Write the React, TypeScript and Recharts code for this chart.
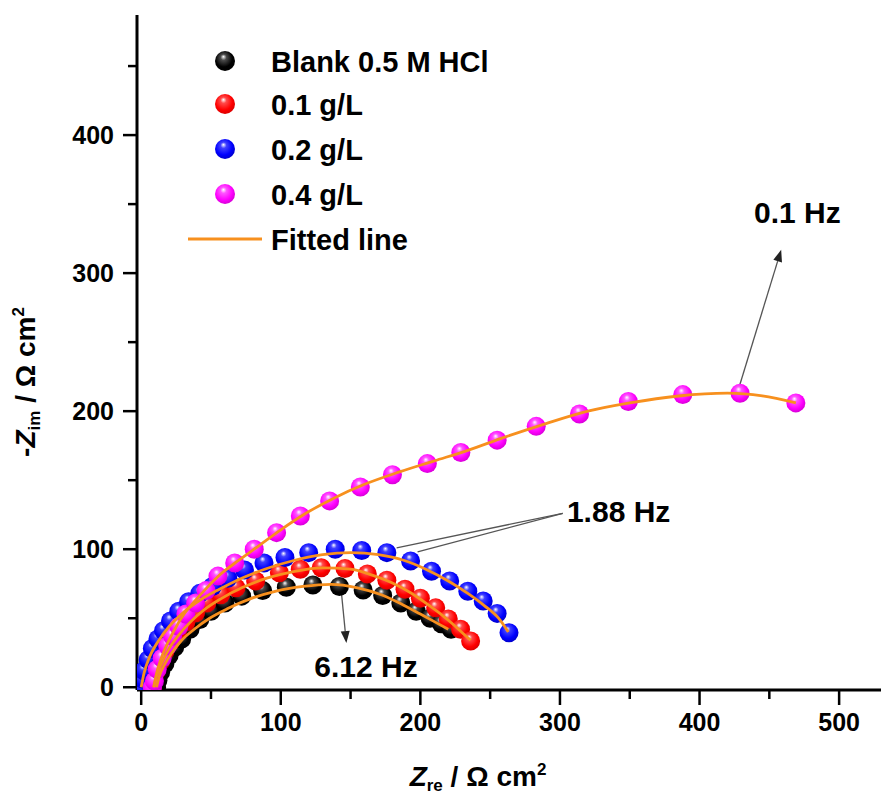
import React from 'react';
import { ScatterChart, Scatter, XAxis, YAxis, Legend, ReferenceLine, ReferenceDot } from 'recharts';

// ---- measured data (Zre, -Zim in Ω cm²) ----
const blankZre = [11, 12, 14, 17, 20, 24, 29, 35, 42, 50, 60, 72, 87, 104, 123, 142, 159, 173, 186, 197, 207, 215, 222];
const blankZim = [0, 5, 11, 17, 23, 29, 35, 42, 49, 55, 61, 66, 70, 72.5, 74, 73, 70.5, 66.5, 61, 55, 50, 46, 42];

const g01Zre = [8, 9, 11, 14, 17, 21, 26, 32, 39, 47, 57, 68, 82, 99, 114, 129, 146, 162, 176, 189, 200, 211, 220, 228.8, 236];
const g01Zim = [0, 5, 12, 19, 26, 33, 40, 47, 54, 61, 67, 72, 77, 83, 85.5, 86.5, 86, 82, 77.5, 71, 64.5, 57.5, 49.5, 42, 33.5];

const g02Zre = [0, 1, 2, 5, 8, 12, 16, 21, 27, 34, 42, 51, 62, 74, 88, 103, 120, 139, 158, 176, 193, 208, 221, 234, 245, 255, 263.5];
const g02Zim = [0, 6, 12, 20, 28, 35, 41, 48, 55, 62, 68, 73, 79, 85, 90, 94, 97.5, 100, 99, 97.5, 91.5, 84, 77, 69.5, 62.5, 53.5, 39.5];

const g04Zre = [8, 9.5, 11.5, 15, 19, 22.5, 27, 32, 39, 46.5, 55, 67, 81, 97, 114, 135, 157, 180, 205, 229, 255, 283, 314, 349, 388, 429, 469];
const g04Zim = [0, 4.5, 13, 21, 30, 37, 44, 53, 61, 70, 80.5, 90, 100, 112, 124, 135, 145, 154, 162, 170, 179, 189, 198, 207, 212, 213, 206];

// ---- fitted curves ----
const blankFitZre = [11, 13, 17, 22, 29, 38, 49, 62, 78, 96, 116, 136, 155, 172, 187, 200, 211, 220];
const blankFitZim = [0, 8, 17, 25, 34, 42, 50, 57, 64, 69.5, 73, 74.5, 72, 67, 60, 53, 47, 42];

const g01FitZre = [9, 11, 15, 20, 27, 35, 45, 57, 72, 90, 110, 130, 150, 166, 180, 193, 204, 214, 223, 230, 236];
const g01FitZim = [0, 8, 18, 28, 38, 47, 56, 64, 72, 79, 84, 86.5, 85.5, 81, 75.5, 68.5, 61, 53.5, 46, 39.5, 34];

const g02FitZre = [0, 2, 6, 12, 20, 30, 42, 56, 72, 90, 110, 130, 150, 170, 188, 205, 220, 234, 246, 256, 263];
const g02FitZim = [0, 10, 22, 33, 44, 54, 63, 71, 79, 86, 92, 96, 97.5, 96, 92, 85, 77, 68, 59, 50, 40];

const g04FitZre = [9, 11, 14, 18, 23, 30, 38, 47, 57, 70, 85, 100, 118, 138, 160, 185, 210, 235, 260, 290, 320, 350, 385, 420, 445, 469];
const g04FitZim = [0, 10, 20, 30, 40, 52, 62, 72, 82, 92, 103, 114, 126, 137, 147, 156, 164, 172, 181, 191, 200, 206, 211, 213, 211, 206];

// ---- axes ----
const xTicks = [0, 50, 100, 150, 200, 250, 300, 350, 400, 450, 500];
const yTicks = [0, 50, 100, 150, 200, 250, 300, 350, 400, 450];
const xDomain = [-3, 530];
const yDomain = [-2, 487];

const seriesNames = ['Blank 0.5 M HCl', '0.1 g/L', '0.2 g/L', '0.4 g/L'];
const fitName = 'Fitted line';

const toPts = (xs: number[], ys: number[]) => xs.map((x, i) => ({ x, y: ys[i] }));

const FONT = '"Liberation Sans", Arial, Helvetica, sans-serif';
const ORANGE = '#f7901e';

const sphereStyles = [
  { id: 'sph-k', stops: ['#ffffff', '#4a4a4a', '#000000', '#000000'] },
  { id: 'sph-r', stops: ['#ffffff', '#ff4a4a', '#ff0000', '#d80000'] },
  { id: 'sph-b', stops: ['#ffffff', '#4040ff', '#0000ff', '#0000c8'] },
  { id: 'sph-m', stops: ['#ffffff', '#ff55ff', '#ff00ff', '#d400d4'] },
];

const series = [
  { name: seriesNames[0], data: toPts(blankZre, blankZim), fit: toPts(blankFitZre, blankFitZim), grad: 'sph-k' },
  { name: seriesNames[1], data: toPts(g01Zre, g01Zim), fit: toPts(g01FitZre, g01FitZim), grad: 'sph-r' },
  { name: seriesNames[2], data: toPts(g02Zre, g02Zim), fit: toPts(g02FitZre, g02FitZim), grad: 'sph-b' },
  { name: seriesNames[3], data: toPts(g04Zre, g04Zim), fit: toPts(g04FitZre, g04FitZim), grad: 'sph-m' },
];

const GradDefs = ({ prefix = '' }: { prefix?: string }) => (
  <defs>
    {sphereStyles.map((s) => (
      <radialGradient key={s.id} id={prefix + s.id} cx="0.45" cy="0.42" r="0.6" fx="0.42" fy="0.28">
        <stop offset="0" stopColor={s.stops[0]} />
        <stop offset="0.25" stopColor={s.stops[1]} />
        <stop offset="0.7" stopColor={s.stops[2]} />
        <stop offset="1" stopColor={s.stops[3]} />
      </radialGradient>
    ))}
  </defs>
);

const makeSphere = (grad: string) => (props: any) => {
  const { cx, cy } = props;
  if (cx == null || cy == null) return <g />;
  return <circle cx={cx} cy={cy} r={9.5} fill={`url(#${grad})`} />;
};

const Empty = () => <g />;

const XTick = (props: any) => {
  const { x, y, payload } = props;
  const v = payload.value;
  const major = v % 100 === 0;
  return (
    <g>
      <line x1={x} x2={x} y1={y} y2={y + (major ? 15 : 9)} stroke="#000" strokeWidth={2.5} />
      {major && (
        <text x={x} y={y + 41} textAnchor="middle" fontFamily={FONT} fontWeight={700} fontSize={25} fill="#000">
          {v}
        </text>
      )}
    </g>
  );
};

const YTick = (props: any) => {
  const { x, y, payload } = props;
  const v = payload.value;
  const major = v % 100 === 0;
  return (
    <g>
      <line x1={x - (major ? 14 : 9)} x2={x} y1={y} y2={y} stroke="#000" strokeWidth={2.5} />
      {major && (
        <text x={x - 23} y={y + 9} textAnchor="end" fontFamily={FONT} fontWeight={700} fontSize={25} fill="#000">
          {v}
        </text>
      )}
    </g>
  );
};

const XTitle = () => (
  <text x={478} y={786} textAnchor="middle" fontFamily={FONT} fontWeight={700} fontSize={28} fill="#000">
    <tspan fontStyle="italic">Z</tspan>
    <tspan fontSize={17} dy={5}>re</tspan>
    <tspan dy={-5}> / Ω cm</tspan>
    <tspan fontSize={17} dy={-11}>2</tspan>
  </text>
);

const YTitle = () => (
  <text
    x={0}
    y={0}
    transform="translate(35,382) rotate(-90)"
    textAnchor="middle"
    fontFamily={FONT}
    fontWeight={700}
    fontSize={28}
    fill="#000"
  >
    <tspan>-</tspan>
    <tspan fontStyle="italic">Z</tspan>
    <tspan fontSize={17} dy={5}>im</tspan>
    <tspan dy={-5}> / Ω cm</tspan>
    <tspan fontSize={17} dy={-11}>2</tspan>
  </text>
);

const LegendBox = () => {
  const rows = [61, 104, 149, 194];
  return (
    <svg width={881} height={270} style={{ display: 'block', overflow: 'visible' }}>
      <GradDefs prefix="lg-" />
      {series.map((s, i) => (
        <g key={s.name}>
          <circle cx={225} cy={rows[i]} r={10} fill={`url(#lg-${s.grad})`} />
          <text x={271} y={rows[i] + 11} fontFamily={FONT} fontWeight={700} fontSize={29} fill="#000">
            {s.name}
          </text>
        </g>
      ))}
      <line x1={188} x2={262} y1={239} y2={239} stroke={ORANGE} strokeWidth={3} />
      <text x={271} y={250} fontFamily={FONT} fontWeight={700} fontSize={29} fill="#000">
        {fitName}
      </text>
    </svg>
  );
};

const Arrow = (props: any) => {
  const { x1, y1, x2, y2, head } = props;
  if ([x1, y1, x2, y2].some((v) => v == null || isNaN(v))) return <g />;
  const ang = Math.atan2(y2 - y1, x2 - x1);
  const L = 12;
  const Wd = 4.5;
  const bx = x2 - L * Math.cos(ang);
  const by = y2 - L * Math.sin(ang);
  const px = -Math.sin(ang) * Wd;
  const py = Math.cos(ang) * Wd;
  return (
    <g>
      <line x1={x1} y1={y1} x2={head ? bx : x2} y2={head ? by : y2} stroke="#555" strokeWidth={1.3} />
      {head && <polygon points={`${x2},${y2} ${bx + px},${by + py} ${bx - px},${by - py}`} fill="#222" />}
    </g>
  );
};

const makeLabel = (text: string, anchor: string) => (props: any) => {
  const { cx, cy } = props;
  if (cx == null || cy == null) return <g />;
  return (
    <text x={cx} y={cy} textAnchor={anchor} fontFamily={FONT} fontWeight={700} fontSize={30} fill="#000">
      {text}
    </text>
  );
};

// annotation anchors in data coordinates
const ann = {
  hz01: { from: { x: 427, y: 213 }, to: { x: 458.5, y: 317 }, label: { x: 439, y: 336 }, text: '0.1 Hz' },
  hz188: { from: { x: 302, y: 126 }, toA: { x: 183, y: 101 }, toB: { x: 198, y: 98 }, label: { x: 305, y: 120 }, text: '1.88 Hz' },
  hz612: { from: { x: 143.5, y: 68 }, to: { x: 147, y: 32 }, label: { x: 124, y: 7.5 }, text: '6.12 Hz' },
};

export default function App() {
  return (
    <div style={{ position: 'absolute', left: 0, top: 0, width: 881, height: 794, background: '#fff' }}>
      <ScatterChart width={881} height={794} margin={{ top: 15, right: 0, bottom: 0, left: 0 }}>
        <GradDefs />
        <XAxis
          type="number"
          dataKey="x"
          domain={xDomain}
          ticks={xTicks}
          interval={0}
          allowDataOverflow
          tickSize={0}
          tickMargin={0}
          tickLine={false}
          axisLine={{ stroke: '#000', strokeWidth: 3 }}
          tick={<XTick />}
          height={104}
          label={{ content: () => <XTitle /> }}
        />
        <YAxis
          type="number"
          dataKey="y"
          domain={yDomain}
          ticks={yTicks}
          interval={0}
          allowDataOverflow
          tickSize={0}
          tickMargin={0}
          tickLine={false}
          axisLine={{ stroke: '#000', strokeWidth: 3 }}
          tick={<YTick />}
          width={137}
          label={{ content: () => <YTitle /> }}
        />
        <Legend
          layout="horizontal"
          verticalAlign="middle"
          align="center"
          content={() => <LegendBox />}
          wrapperStyle={{ position: 'absolute', left: 0, top: 0, width: 881, height: 270, pointerEvents: 'none' }}
        />
        {series.map((s) => (
          <Scatter
            key={s.name}
            name={s.name}
            data={s.data}
            shape={makeSphere(s.grad)}
            isAnimationActive={false}
          />
        ))}
        {series.map((s) => (
          <Scatter
            key={s.name + '-fit'}
            name={s.name + ' fit'}
            data={s.fit}
            shape={Empty}
            line={{ stroke: ORANGE, strokeWidth: 2.8 }}
            lineType="joint"
            lineJointType="monotoneX"
            legendType="none"
            isAnimationActive={false}
          />
        ))}
        <ReferenceLine
          segment={[ann.hz01.from, ann.hz01.to]}
          shape={(p: any) => <Arrow {...p} head />}
        />
        <ReferenceLine
          segment={[ann.hz188.from, ann.hz188.toA]}
          shape={(p: any) => <Arrow {...p} />}
        />
        <ReferenceLine
          segment={[ann.hz188.from, ann.hz188.toB]}
          shape={(p: any) => <Arrow {...p} />}
        />
        <ReferenceLine
          segment={[ann.hz612.from, ann.hz612.to]}
          shape={(p: any) => <Arrow {...p} head />}
        />
        <ReferenceDot x={ann.hz01.label.x} y={ann.hz01.label.y} r={0} shape={makeLabel(ann.hz01.text, 'start')} />
        <ReferenceDot x={ann.hz188.label.x} y={ann.hz188.label.y} r={0} shape={makeLabel(ann.hz188.text, 'start')} />
        <ReferenceDot x={ann.hz612.label.x} y={ann.hz612.label.y} r={0} shape={makeLabel(ann.hz612.text, 'start')} />
      </ScatterChart>
    </div>
  );
}
